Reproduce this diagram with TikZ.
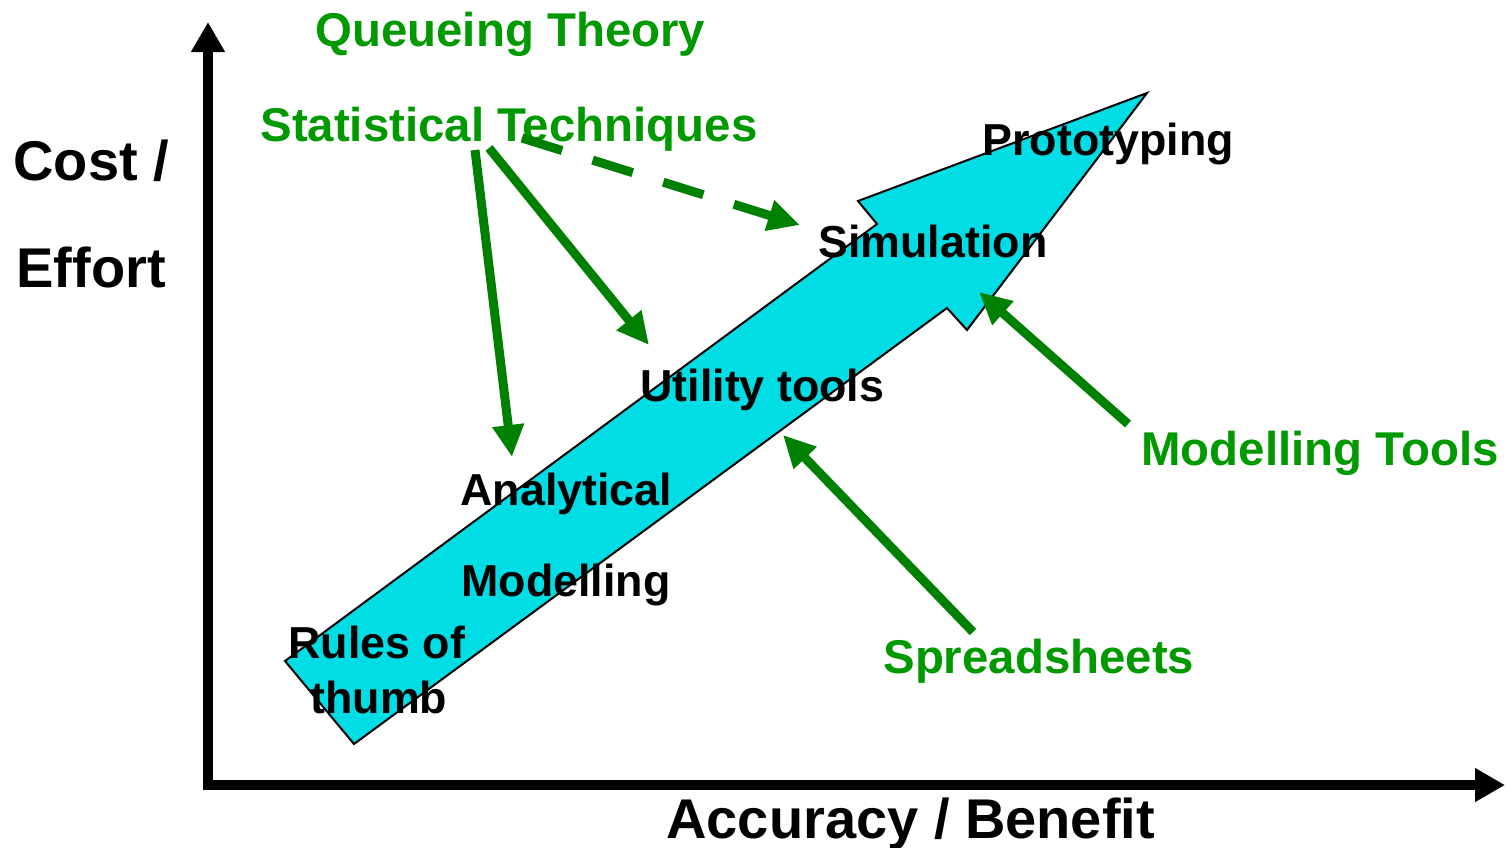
\documentclass[tikz,border=0pt]{standalone}
\usepackage{fontspec}
\setmainfont{Liberation Sans}
\usetikzlibrary{arrows.meta}
\definecolor{cyanfill}{RGB}{0,221,228}
\definecolor{arrgreen}{RGB}{0,128,0}
\definecolor{txtgreen}{RGB}{0,153,0}
\begin{document}
\begin{tikzpicture}[x=0.5pt,y=-0.5pt,
  lbl/.style={anchor=base west,inner sep=0pt,font=\fontsize{22.4}{26}\selectfont\bfseries},
  glbl/.style={anchor=base west,inner sep=0pt,text=txtgreen,font=\fontsize{23.7}{28}\selectfont\bfseries},
  axlbl/.style={anchor=base west,inner sep=0pt,font=\fontsize{28}{33}\selectfont\bfseries},
  garrow/.style={draw=arrgreen,line width=4.5pt,-{Triangle[length=16pt,width=15pt]}},
  gdash/.style={garrow,dash pattern=on 21pt off 16pt},
  axisline/.style={line width=5pt,line join=miter,{Triangle[length=15pt,width=16pt]}-{Triangle[length=15pt,width=16pt]}},
  bigarrow/.style={draw=black,fill=cyanfill,line width=1pt,line join=miter}]
\useasboundingbox (0,0) rectangle (1507,847);

% big cyan arrow
\draw[bigarrow] (285,661) -- (354,744) -- (947,308) -- (967,330) -- (1147,93)
  -- (858,201) -- (877,224) -- cycle;

% axes
\coordinate (ytip) at (208,22);
\coordinate (orig) at (208,785);
\coordinate (xtip) at (1505,785);
\draw[axisline] (ytip) -- (orig) -- (xtip);

% axis labels
\node[axlbl] (cost) at (13,180) {Cost /};
\node[axlbl] (effort) at (16,287) {Effort};
\node[axlbl] (acc) at (666,838) {Accuracy / Benefit};

% black labels
\node[lbl] (proto) at (982,155) {Prototyping};
\node[lbl] (sim) at (818,257) {Simulation};
\node[lbl] (util) at (640,401) {Utility tools};
\node[lbl] (anal) at (460,505) {Analytical};
\node[lbl] (model) at (461,596) {Modelling};
\node[lbl] (rules) at (288,658) {Rules of};
\node[lbl] (thumb) at (310,713) {thumb};

% green labels
\node[glbl] (queue) at (315,46) {Queueing Theory};
\node[glbl] (stat) at (260,141) {Statistical Techniques};
\node[glbl] (mtools) at (1141,465) {Modelling Tools};
\node[glbl] (spread) at (883,673) {Spreadsheets};

% arrow end points
\coordinate (s1) at (475,150);
\coordinate (s2) at (489,148);
\coordinate (s3) at (522,138);
\coordinate (t1) at (512,457);
\coordinate (t2) at (649,345);
\coordinate (t3) at (800,225);
\coordinate (m0) at (1128,424);
\coordinate (m1) at (979,292);
\coordinate (p0) at (973,632);
\coordinate (p1) at (783,435);

% green arrows
\draw[garrow] (s1) -- (t1);
\draw[garrow] (s2) -- (t2);
\draw[gdash] (s3) -- (t3);
\draw[garrow] (m0) -- (m1);
\draw[garrow] (p0) -- (p1);
\end{tikzpicture}
\end{document}
